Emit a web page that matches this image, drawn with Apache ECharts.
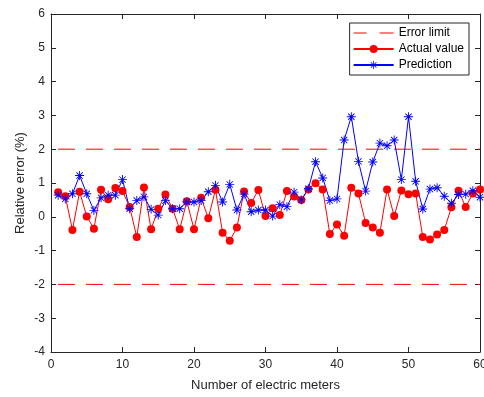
<!DOCTYPE html>
<html>
<head>
<meta charset="utf-8">
<script src="https://cdn.jsdelivr.net/npm/echarts@6/dist/echarts.min.js"></script>
<style>
  html, body { margin: 0; padding: 0; background: #fff; }
  #chart { width: 484px; height: 397px; }
</style>
</head>
<body>
<div id="chart"></div>
<script>
const meters = Array.from({ length: 60 }, (_, i) => i + 1)
const actual = [
  0.73, 0.61, -0.39, 0.74, 0.01, -0.35, 0.80, 0.52, 0.85, 0.76,
  0.29, -0.60, 0.87, -0.37, 0.24, 0.66, 0.24, -0.37, 0.46, -0.37,
  0.56, -0.04, 0.80, -0.47, -0.71, -0.32, 0.75, 0.41, 0.79, 0.02,
  0.25, 0.05, 0.76, 0.60, 0.50, 0.81, 0.99, 0.81, -0.51, -0.23,
  -0.56, 0.86, 0.69, -0.18, -0.32, -0.47, 0.81, 0.02, 0.78, 0.67,
  0.69, -0.60, -0.67, -0.52, -0.39, 0.28, 0.77, 0.29, 0.69, 0.81
]
const prediction = [
  0.64, 0.53, 0.68, 1.22, 0.68, 0.19, 0.56, 0.64, 0.64, 1.10,
  0.24, 0.48, 0.59, 0.22, 0.05, 0.48, 0.24, 0.24, 0.44, 0.44,
  0.48, 0.74, 0.93, 0.44, 0.96, 0.20, 0.67, 0.15, 0.20, 0.20,
  0.02, 0.36, 0.30, 0.73, 0.50, 0.83, 1.63, 1.15, 0.48, 0.53,
  2.27, 2.96, 1.64, 0.76, 1.62, 2.18, 2.10, 2.27, 1.10, 2.96,
  1.05, 0.23, 0.82, 0.86, 0.61, 0.40, 0.66, 0.67, 0.77, 0.58
]
const errorLimit = [2, -2]
const xRange = [0, 60]
const yRange = [-4, 6]

const axisColor = '#262626'
const font = 'Liberation Sans, Arial, sans-serif'

// asterisk made from four thin bars, all wound the same way
const star = 'path://M-1,-10L1,-10L1,10L-1,10Z M-10,-1L10,-1L10,1L-10,1Z ' +
  'M-7.7,-6.3L-6.3,-7.7L7.7,6.3L6.3,7.7Z M-7.7,6.3L6.3,-7.7L7.7,-6.3L-6.3,7.7Z'
// dashed line icon for the legend
const dashIcon = 'path://M0,0L13,0L13,1L0,1Z M26,0L40,0L40,1L26,1Z'

const boxAxis = (extra) => Object.assign({
  type: 'value',
  axisLine: { show: true, onZero: false, lineStyle: { color: axisColor, width: 1 } },
  axisTick: { show: true, inside: true, length: 5, lineStyle: { color: axisColor } },
  splitLine: { show: false },
}, extra)

const myChart = echarts.init(document.getElementById('chart'))
const option = {
  animation: false,
  textStyle: { fontFamily: font },
  grid: { left: 51, right: 4, top: 14, bottom: 45, outerBoundsMode: 'none' },
  legend: {
    right: 15,
    top: 23,
    orient: 'vertical',
    itemWidth: 40,
    itemHeight: 10,
    itemGap: 4,
    padding: [4, 5, 4, 3],
    borderColor: axisColor,
    borderWidth: 1,
    backgroundColor: '#fff',
    textStyle: { fontSize: 12, color: '#000', fontFamily: font },
    data: [
      { name: 'Error limit', icon: dashIcon, itemStyle: { color: '#ff0000' } },
      'Actual value',
      'Prediction',
    ],
  },
  xAxis: [
    boxAxis({
      min: xRange[0], max: xRange[1], interval: 10,
      name: 'Number of electric meters',
      nameLocation: 'middle',
      nameGap: 27,
      nameMoveOverlap: false,
      nameTextStyle: { fontSize: 13, color: axisColor, fontFamily: font },
      axisLabel: { fontSize: 12, color: axisColor, margin: 7 },
    }),
    boxAxis({
      position: 'top', min: xRange[0], max: xRange[1], interval: 10,
      axisLabel: { show: false },
    }),
  ],
  yAxis: [
    boxAxis({
      min: yRange[0], max: yRange[1], interval: 1,
      name: 'Relative error (%)',
      nameLocation: 'middle',
      nameGap: 24,
      nameMoveOverlap: false,
      nameTextStyle: { fontSize: 13, color: axisColor, fontFamily: font },
      axisLabel: { fontSize: 12, color: axisColor, margin: 6 },
    }),
    boxAxis({
      position: 'right', min: yRange[0], max: yRange[1], interval: 1,
      axisLabel: { show: false },
    }),
  ],
  series: [
    ...errorLimit.map((v) => ({
      name: 'Error limit',
      type: 'line',
      symbol: 'none',
      data: [[xRange[0], v], [xRange[1], v]],
      lineStyle: { color: '#ff0000', width: 1, type: [17, 11], dashOffset: 21 },
      itemStyle: { color: '#ff0000' },
      silent: true,
    })),
    {
      name: 'Actual value',
      type: 'line',
      data: meters.map((m, i) => [m, actual[i]]),
      symbol: 'circle',
      symbolSize: 8,
      showAllSymbol: true,
      lineStyle: { color: '#ff0000', width: 1 },
      itemStyle: { color: '#ff0000' },
    },
    {
      name: 'Prediction',
      type: 'line',
      data: meters.map((m, i) => [m, prediction[i]]),
      symbol: star,
      symbolSize: 9,
      showAllSymbol: true,
      lineStyle: { color: '#0000ff', width: 1 },
      itemStyle: { color: '#0000ff' },
      z: 3,
    },
  ],
}
myChart.setOption(option)
</script>
</body>
</html>
